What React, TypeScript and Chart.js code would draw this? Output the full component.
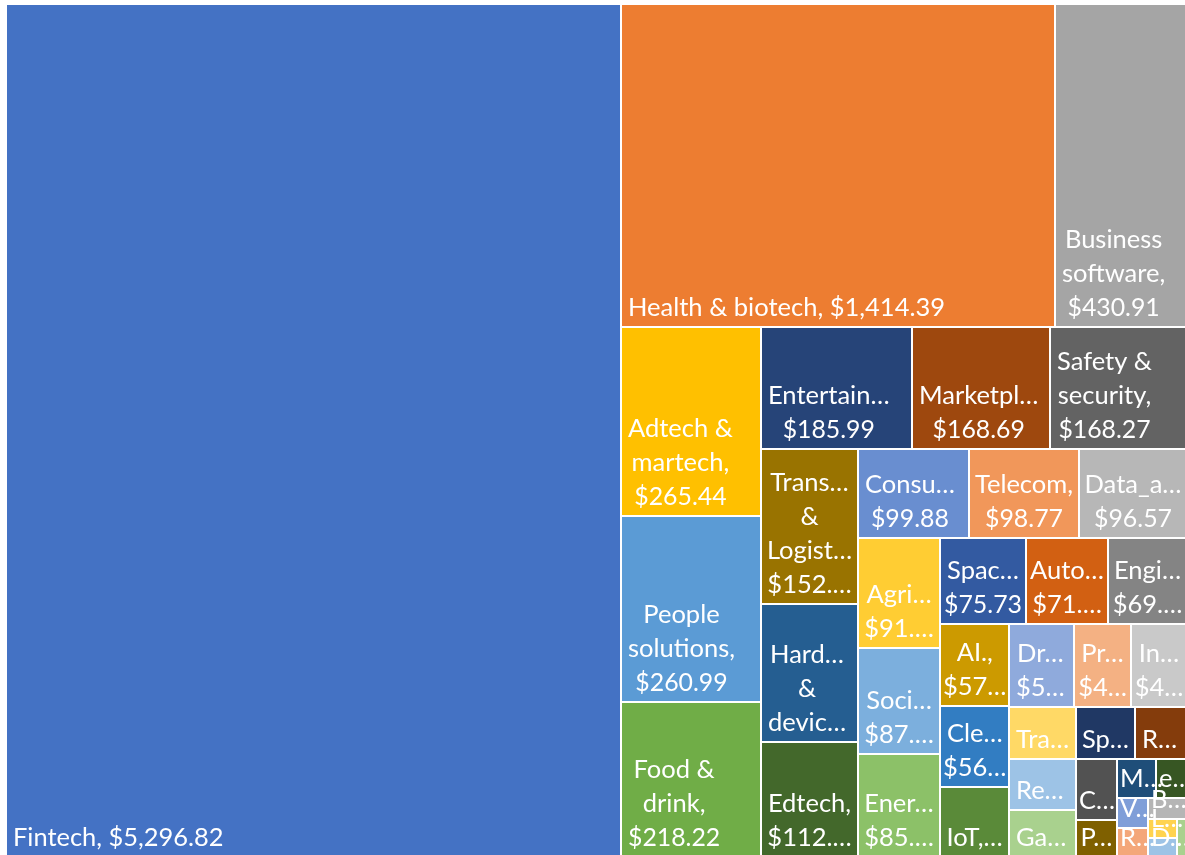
import React, { useEffect, useRef } from "react";
import { Chart, registerables } from "chart.js";

Chart.register(...registerables);

// Categories in the order the treemap lays them out
const categories: string[] = [
  "Fintech", "Health & biotech", "Business software", "Adtech & martech",
  "People solutions", "Food & drink", "Entertainment", "Marketplace",
  "Safety & security", "Transportation & Logistics", "Hardware & devices", "Edtech",
  "Consumer", "Telecom", "Data_analytics", "Agriculture", "Social_media", "Energy",
  "Spacetech", "Automotive", "Engineering", "AI.", "Cleantech", "IoT", "Drones",
  "Proptech", "Insurtech", "Travel", "Remote work", "Gaming", "Sports", "Robotics",
  "Crypto", "Pets", "Media", "ecommerce", "VR", "Real estate", "Blockchain",
  "Legal", "Defense", "Greentech",
];

// Total funding (USD) per category
const values: number[] = [
  5296.82, 1414.39, 430.91, 265.44,
  260.99, 218.22, 185.99, 168.69,
  168.27, 152.4, 135.62, 112.6,
  99.88, 98.77, 96.57, 91.6, 87.4, 85.3,
  75.73, 71.4, 69.5, 57.3, 56.4, 48.9, 54.0,
  47.4, 46.5, 35.3, 34.6, 31.9, 30.6, 27.4,
  25.3, 15.4, 15.4, 12.2, 9.3, 9.0, 8.2,
  5.7, 5.6, 3.9,
];

const colors: string[] = [
  "#4472C4", "#ED7D31", "#A5A5A5", "#FFC000",
  "#5B9BD5", "#70AD47", "#264478", "#9E480E",
  "#636363", "#997300", "#255E91", "#43682B",
  "#698ED0", "#F1975A", "#B7B7B7", "#FFCD33", "#7CAFDD", "#8CC168",
  "#335AA1", "#D26012", "#848484", "#CC9A00", "#327DC2", "#5A8A39", "#8FAADC",
  "#F4B183", "#C9C9C9", "#FFD966", "#9DC3E6", "#A9D18E", "#203864", "#843C0C",
  "#525252", "#7F6000", "#1F4E79", "#375623", "#7F9ED8", "#F4A77A", "#B5B5B5",
  "#FFD34F", "#9DC3E6", "#A9D18E",
];

// horizontal stretch of the space in which the squarified layout is solved
const LAYOUT_STRETCH = 1.065;

// Approximate Calibri advance widths (em) used to decide how labels wrap/truncate
const CALIBRI_W: Record<string, number> = {
  " ": 0.226, "!": 0.326, "$": 0.507, "&": 0.682, ",": 0.25, ".": 0.252, "_": 0.498, "…": 0.75,
  "0": 0.507, "1": 0.507, "2": 0.507, "3": 0.507, "4": 0.507, "5": 0.507, "6": 0.507, "7": 0.507, "8": 0.507, "9": 0.507,
  A: 0.579, B: 0.544, C: 0.533, D: 0.615, E: 0.488, F: 0.459, G: 0.631, H: 0.623, I: 0.252, J: 0.319,
  K: 0.52, L: 0.42, M: 0.855, N: 0.646, O: 0.662, P: 0.517, Q: 0.673, R: 0.543, S: 0.459, T: 0.487,
  U: 0.642, V: 0.567, W: 0.89, X: 0.519, Y: 0.487, Z: 0.468,
  a: 0.479, b: 0.525, c: 0.423, d: 0.525, e: 0.498, f: 0.305, g: 0.471, h: 0.525, i: 0.229, j: 0.239,
  k: 0.455, l: 0.229, m: 0.799, n: 0.525, o: 0.527, p: 0.525, q: 0.525, r: 0.349, s: 0.391, t: 0.335,
  u: 0.525, v: 0.452, w: 0.715, x: 0.433, y: 0.453, z: 0.395,
};
const METRIC_PX = 28;

type R = { x: number; y: number; w: number; h: number };

function squarify(vals: number[], rect: R): R[] {
  const out: R[] = [];
  let { x, y, w, h } = rect;
  const worst = (row: number[], side: number) => {
    const s = row.reduce((a, b) => a + b, 0);
    const mx = Math.max(...row);
    const mn = Math.min(...row);
    return Math.max((side * side * mx) / (s * s), (s * s) / (side * side * mn));
  };
  let i = 0;
  while (i < vals.length) {
    const side = Math.min(w, h);
    const row = [vals[i]];
    let j = i + 1;
    while (j < vals.length && worst([...row, vals[j]], side) <= worst(row, side)) {
      row.push(vals[j]);
      j++;
    }
    const s = row.reduce((a, b) => a + b, 0);
    if (w >= h) {
      const cw = s / h;
      let yy = y;
      for (const v of row) {
        const ch = v / cw;
        out.push({ x, y: yy, w: cw, h: ch });
        yy += ch;
      }
      x += cw;
      w -= cw;
    } else {
      const rh = s / w;
      let xx = x;
      for (const v of row) {
        const cw2 = v / rh;
        out.push({ x: xx, y, w: cw2, h: rh });
        xx += cw2;
      }
      y += rh;
      h -= rh;
    }
    i = j;
  }
  return out;
}

const fmt = (v: number) =>
  "$" + v.toLocaleString("en-US", { minimumFractionDigits: 2, maximumFractionDigits: 2 });

const FONT = "25.5px Lato";
const LINE_H = 34;

const metric = (s: string) => {
  let w = 0;
  for (const ch of s) w += CALIBRI_W[ch] ?? 0.5;
  return w * METRIC_PX;
};

function buildLines(text: string, avail: number): string[] {
  const fit = (s: string) => metric(s) <= avail;
  const trunc = (s: string) => {
    for (let n = s.length - 1; n >= 1; n--) {
      const t = s.slice(0, n) + "…";
      if (fit(t)) return t;
    }
    return s[0] + "…";
  };
  const words = text.split(" ");
  const lines: string[] = [];
  let line = "";
  for (const wd of words) {
    const test = line ? line + " " + wd : wd;
    if (fit(test)) {
      line = test;
      continue;
    }
    if (line) {
      lines.push(line);
      line = "";
    }
    if (fit(wd)) line = wd;
    else lines.push(trunc(wd));
  }
  if (line) lines.push(line);
  return lines;
}

const treemapPlugin = {
  id: "treemapCells",
  afterDatasetsDraw(chart: any) {
    const { ctx, chartArea, scales } = chart;
    const xs = scales.x;
    const ys = scales.y;
    const A = (chartArea.width / chartArea.height) * LAYOUT_STRETCH;
    const total = values.reduce((a, b) => a + b, 0);
    const areas = values.map((v) => (v / total) * A);
    const cells = squarify(areas, { x: 0, y: 0, w: A, h: 1 });
    const rects = cells.map((c) => {
      const l = Math.round(xs.getPixelForValue(c.x / A));
      const r = Math.round(xs.getPixelForValue((c.x + c.w) / A));
      const t1 = ys.getPixelForValue(c.y);
      const b1 = ys.getPixelForValue(c.y + c.h);
      return { l, r, t: Math.round(Math.min(t1, b1)), b: Math.round(Math.max(t1, b1)) };
    });
    ctx.save();
    rects.forEach((rc, i) => {
      ctx.fillStyle = colors[i];
      ctx.fillRect(rc.l + 1, rc.t + 1, rc.r - rc.l - 2, rc.b - rc.t - 2);
    });
    ctx.font = FONT;
    ctx.fillStyle = "#FFFFFF";
    ctx.textBaseline = "alphabetic";
    ctx.textAlign = "left";
    rects.forEach((rc, i) => {
      const visL = rc.l + 1;
      const visW = rc.r - rc.l - 2;
      const visB = rc.b - 1;
      const visH = rc.b - rc.t - 2;
      if (visW < 18) return;
      const avail = visW - 3;
      let lines = buildLines(`${categories[i]}, ${fmt(values[i])}`, avail);
      const maxLines = Math.max(1, Math.floor((visH - 8) / LINE_H));
      if (lines.length > maxLines) {
        lines = lines.slice(0, maxLines);
        const last = lines[maxLines - 1];
        if (!last.endsWith("…")) {
          let base = last;
          let s = base + "…";
          while (metric(s) > avail && base.length > 1) {
            base = base.slice(0, -1);
            s = base + "…";
          }
          lines[maxLines - 1] = s;
        }
      }
      const widths = lines.map((s) => Math.min(ctx.measureText(s).width, metric(s)));
      const bw = Math.max(...widths);
      const left = visL + Math.max(2, Math.min(6, (visW - bw) / 2));
      const lastBase = visB - 10;
      lines.forEach((s, k) => {
        const yb = lastBase - (lines.length - 1 - k) * LINE_H;
        ctx.fillText(s, left + (bw - widths[k]) / 2, yb, widths[k]);
      });
    });
    ctx.restore();
  },
};

export default function App() {
  const ref = useRef<HTMLCanvasElement | null>(null);
  useEffect(() => {
    document.body.style.margin = "0";
    const canvas = ref.current;
    if (!canvas) return;
    const chart = new Chart(canvas, {
      type: "scatter",
      data: { datasets: [{ label: "Funding", data: [] }] },
      options: {
        animation: false,
        responsive: false,
        devicePixelRatio: 1,
        layout: { padding: { left: 6, top: 4, right: 3, bottom: 1 } },
        plugins: { legend: { display: false }, tooltip: { enabled: false } },
        scales: {
          x: { type: "linear", min: 0, max: 1, display: false },
          y: { type: "linear", min: 0, max: 1, reverse: true, display: false },
        },
      },
      plugins: [treemapPlugin],
    });
    return () => chart.destroy();
  }, []);
  return (
    <div
      style={{
        position: "fixed",
        left: 0,
        top: 0,
        width: 1185,
        height: 855,
        overflow: "hidden",
        background: "#ffffff",
      }}
    >
      <canvas ref={ref} width={1190} height={858} />
    </div>
  );
}
